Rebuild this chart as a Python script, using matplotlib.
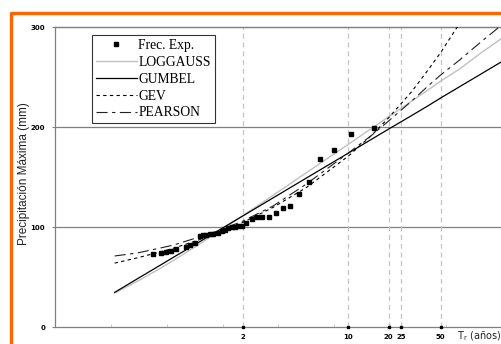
import numpy as np
import matplotlib
matplotlib.use("Agg")
import matplotlib.pyplot as plt
from matplotlib.lines import Line2D

# ---------------- data ----------------
# observed points: return period (years) and max precipitation (mm)
obs_T = [1.031, 1.052, 1.068, 1.088, 1.112, 1.173, 1.197, 1.238, 1.284, 1.319,
         1.357, 1.396, 1.440, 1.511, 1.564, 1.620, 1.678, 1.744, 1.812, 1.884,
         1.965, 2.073, 2.233, 2.387, 2.557, 2.847, 3.125, 3.449, 3.882, 4.448,
         5.187, 6.246, 7.831, 10.40, 15.56]
obs_P = [73, 74, 75, 76, 78, 80, 82, 84, 91, 92,
         92, 93, 93, 94, 96, 97, 99, 100, 100, 101,
         101, 104, 108, 110, 110, 110, 114, 119, 121, 133,
         145, 168, 177, 193, 199]

# fitted curves, read at these return periods
curve_T  = [1.001, 1.01, 1.05, 1.1, 1.25, 1.5, 2, 3, 5, 10, 15, 20, 30, 40, 50, 70, 100, 148]
loggauss = [34.0, 45.6, 58.7, 66.8, 80.7, 94.5, 111.6, 131.7, 154.3, 182.7, 199.0, 210.1, 226.0, 237.0, 245.9, 258.0, 273.1, 288.6]
gumbel   = [34.6, 48.1, 61.9, 69.9, 83.1, 95.9, 111.2, 129.1, 149.0, 173.9, 188.0, 197.9, 211.5, 221.2, 229.0, 240.3, 252.2, 265.3]
gev      = [63.9, 69.1, 75.1, 78.9, 86.1, 93.9, 104.7, 119.6, 139.5, 170.9, 192.0, 209.2, 235.4, 257.0, 274.4, 303.6, 338.0, 390.0]
pearson  = [71, 74, 79, 82, 89, 96, 106, 121, 143, 174, 192, 206, 226, 241, 252, 267, 284, 302]

tick_T = [2, 10, 20, 25, 50]
tick_labels = ["2", "10", "20", "25", "50"]
y_ticks = [0, 100, 200, 300]
minor_u = [-2, -1, 0, 1, 2, 3, 4]

# ---------------- Gumbel probability scale ----------------
def fwd(T):
    T = np.asarray(T, dtype=float)
    with np.errstate(all="ignore"):
        return -np.log(-np.log(1.0 - 1.0 / T))

def inv(u):
    u = np.asarray(u, dtype=float)
    with np.errstate(all="ignore"):
        return 1.0 / (1.0 - np.exp(-np.exp(-u)))

W, H = 502, 344
fig = plt.figure(figsize=(W / 100, H / 100), dpi=100)
fig.patch.set_facecolor("white")
ax = fig.add_axes([55 / W, 17 / H, 447 / W, 300 / H])
ax.set_xscale("function", functions=(fwd, inv))

# grid
for yv in [100, 200, 300]:
    ax.axhline(yv, color="#808080", lw=0.9, zorder=1, clip_on=False)
for t in tick_T:
    ax.axvline(t, color="#c4c4c4", lw=0.9, ls=(0, (4, 3)), zorder=1)

ax.plot(curve_T, loggauss, color="#c0c0c0", lw=1.0, zorder=3, label="LOGGAUSS")
ax.plot(curve_T, gumbel, color="black", lw=0.9, zorder=3, label="GUMBEL")
ax.plot(curve_T, gev, color="black", lw=0.8, ls=(0, (3, 3)), zorder=3, label="GEV")
ax.plot(curve_T, pearson, color="#202020", lw=0.8, ls=(0, (10, 4, 3, 4)), zorder=3, label="PEARSON")
ax.plot(obs_T, obs_P, ls="none", marker="s", ms=2.4, color="black", zorder=4, label="Frec. Exp.")

# markers at the axis for the return periods
ax.plot(tick_T, [0] * len(tick_T), ls="none", marker="s", ms=2.0, color="black",
        clip_on=False, zorder=5)

ax.set_xlim(inv(-3.0), inv(5.0))
ax.set_ylim(0, 300)

ax.set_xticks(tick_T)
ax.set_xticklabels(tick_labels)
ax.set_xticks(inv(minor_u), minor=True)
ax.tick_params(axis="x", which="major", length=0, pad=5, labelsize=5)
ax.tick_params(axis="x", which="minor", length=2, direction="in", color="#c0c0c0")
for lab in ax.get_xticklabels():
    lab.set_fontweight("bold")

ax.set_yticks(y_ticks)
ax.tick_params(axis="y", length=2, color="#808080", pad=5, labelsize=5)
for lab in ax.get_yticklabels():
    lab.set_fontweight("bold")

for s in ["left", "bottom", "top"]:
    ax.spines[s].set_color("#808080")
    ax.spines[s].set_linewidth(0.9)
ax.spines["right"].set_visible(False)

# legend
handles = [
    Line2D([], [], ls="none", marker="s", ms=2.6, color="black"),
    Line2D([], [], color="#c0c0c0", lw=1.0),
    Line2D([], [], color="black", lw=0.9),
    Line2D([], [], color="black", lw=0.8, ls=(0, (3, 3))),
    Line2D([], [], color="#202020", lw=0.8, ls=(0, (10, 4, 3, 4))),
]
labels = ["Frec. Exp.", "LOGGAUSS", "GUMBEL", "GEV", "PEARSON"]
leg = ax.legend(handles, labels, loc="upper left",
                bbox_to_anchor=((92 - 55) / 447, (327 - 35) / 300),
                borderaxespad=0, frameon=True, fancybox=False,
                prop={"family": "Liberation Serif", "size": 9.8},
                handlelength=3.0, handletextpad=0.1, labelspacing=0.28,
                borderpad=0.3)
leg.get_frame().set_edgecolor("black")
leg.get_frame().set_linewidth(0.8)
leg.set_zorder(10)

# axis titles
fig.text(24 / W, 1 - 174 / H, "Precipitación Máxima (mm)", rotation=90,
         ha="center", va="center", fontsize=8.5, family="Liberation Sans", color="#222222")
fig.text(457 / W, 1 - 336 / H, r"T$_\mathregular{r}$ (años)", ha="left", va="center",
         fontsize=7, family="DejaVu Sans", color="#222222")

# orange frame (top and left edges)
fig.add_artist(Line2D([11.5 / W, 11.5 / W], [0, 1 - 12 / H], transform=fig.transFigure,
                      color="#ff6600", lw=2.4, solid_capstyle="butt"))
fig.add_artist(Line2D([10 / W, 1], [1 - 13.2 / H, 1 - 13.2 / H], transform=fig.transFigure,
                      color="#ff6600", lw=2.4, solid_capstyle="butt"))

fig.savefig("out.png", dpi=100)
